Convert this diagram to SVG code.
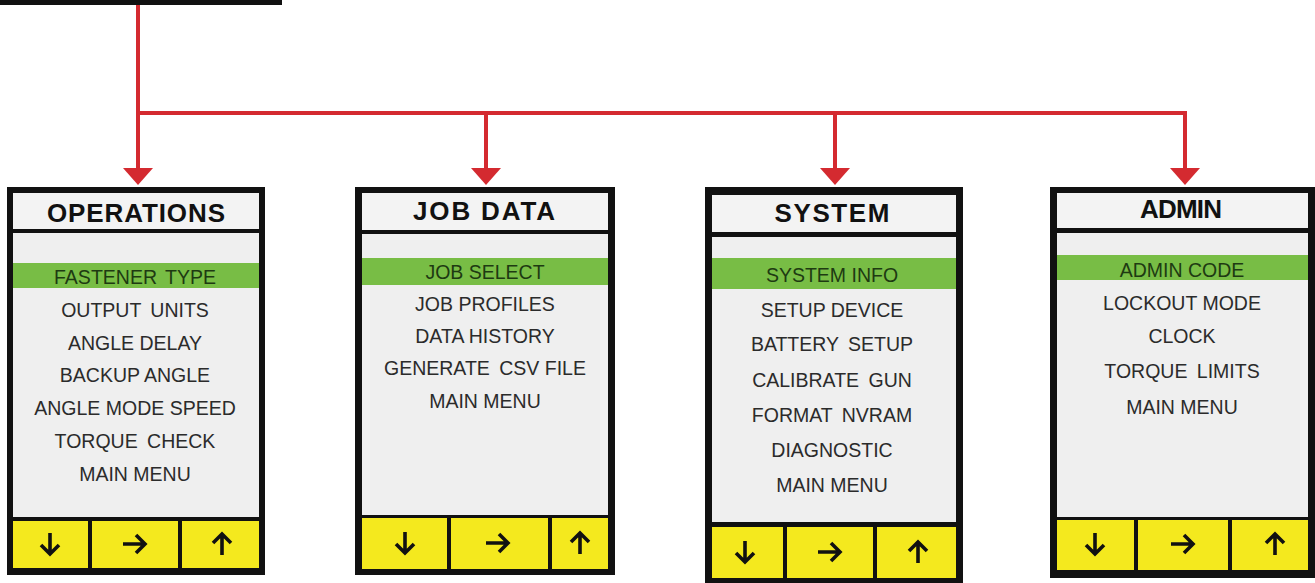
<svg xmlns="http://www.w3.org/2000/svg" xmlns:xlink="http://www.w3.org/1999/xlink" width="1315" height="583" viewBox="0 0 1315 583">
  <style>
    .frame { fill: #111111; }
    .title-bg { fill: #f3f3f3; }
    .body-bg { fill: #efefef; }
    .sel { fill: #78bd45; }
    .btn { fill: #f4e91e; }
    .title { font-family: "Liberation Sans", Arial, sans-serif; font-weight: bold; font-size: 26px; fill: #111111; text-anchor: middle; }
    .item { font-family: "Liberation Sans", Arial, sans-serif; font-size: 19.5px; fill: #2b2b2b; text-anchor: middle; }
    .item.on { fill: #1e3a12; }
    .wire { fill: none; stroke: #d42a30; stroke-width: 4; }
    .glyph { fill: none; stroke: #111111; stroke-width: 3.6; stroke-linejoin: miter; }
  </style>
  <defs>
    <!-- triangular red head, tip 15px beyond the end of the line -->
    <marker id="head" markerUnits="userSpaceOnUse" markerWidth="17" markerHeight="30" refX="2" refY="15" orient="auto" viewBox="0 0 17 30">
      <path d="M0,0 L17,15 L0,30 Z" fill="#d42a30"/>
    </marker>
    <g id="down"><path class="glyph" d="M0,-11 V10 M-9,1 L0,10 L9,1"/></g>
    <g id="right"><path class="glyph" d="M-12,0 H10 M1,-9 L10,0 L1,9"/></g>
    <g id="up"><path class="glyph" d="M0,11 V-10 M-9,-1 L0,-10 L9,-1"/></g>
  </defs>

  <rect width="1315" height="583" fill="#ffffff"/>

  <!-- top menu bar edge -->
  <rect id="root" x="0" y="0" width="282" height="5" class="frame"/>

  <!-- connectors -->
  <g id="connectors">
    <path class="wire" d="M138,5 V113 H1185"/>
    <path class="wire" d="M138,113 V170" marker-end="url(#head)"/>
    <path class="wire" d="M486,113 V170" marker-end="url(#head)"/>
    <path class="wire" d="M835,113 V170" marker-end="url(#head)"/>
    <path class="wire" d="M1185,111 V170" marker-end="url(#head)"/>
  </g>

  <!-- OPERATIONS -->
  <g id="operations">
    <rect class="frame" x="7" y="187" width="258" height="388"/>
    <rect class="title-bg" x="13" y="193" width="246" height="36"/>
    <rect class="body-bg" x="13" y="233" width="246" height="284"/>
    <rect class="sel" x="13" y="263" width="246" height="25"/>
    <rect class="btn" x="13" y="521" width="75" height="47"/>
    <rect class="btn" x="92" y="521" width="86" height="47"/>
    <rect class="btn" x="182" y="521" width="77" height="47"/>
    <text class="title" x="136" y="222" textLength="178" lengthAdjust="spacing">OPERATIONS</text>
    <text class="item on" x="135" y="284">FASTENER<tspan dx="3"> TYPE</tspan></text>
    <text class="item" x="135" y="317">OUTPUT<tspan dx="4"> UNITS</tspan></text>
    <text class="item" x="135" y="350">ANGLE DELAY</text>
    <text class="item" x="135" y="382">BACKUP ANGLE</text>
    <text class="item" x="135" y="415">ANGLE MODE SPEED</text>
    <text class="item" x="135" y="448">TORQUE<tspan dx="4"> CHECK</tspan></text>
    <text class="item" x="135" y="481">MAIN MENU</text>
    <use xlink:href="#down" x="50" y="544"/>
    <use xlink:href="#right" x="135" y="544"/>
    <use xlink:href="#up" x="222" y="544"/>
  </g>

  <!-- JOB DATA -->
  <g id="job-data">
    <rect class="frame" x="355" y="187" width="260" height="388"/>
    <rect class="title-bg" x="362" y="193" width="246" height="37"/>
    <rect class="body-bg" x="362" y="234" width="246" height="281"/>
    <rect class="sel" x="362" y="258" width="246" height="27"/>
    <rect class="btn" x="362" y="518" width="85" height="51"/>
    <rect class="btn" x="451" y="518" width="97" height="51"/>
    <rect class="btn" x="552" y="518" width="56" height="51"/>
    <text class="title" x="484" y="220" textLength="142" lengthAdjust="spacing">JOB DATA</text>
    <text class="item on" x="485" y="279">JOB SELECT</text>
    <text class="item" x="485" y="311">JOB PROFILES</text>
    <text class="item" x="485" y="343">DATA HISTORY</text>
    <text class="item" x="485" y="375">GENERATE<tspan dx="4"> CSV FILE</tspan></text>
    <text class="item" x="485" y="408">MAIN MENU</text>
    <use xlink:href="#down" x="405" y="543"/>
    <use xlink:href="#right" x="498" y="543"/>
    <use xlink:href="#up" x="580" y="543"/>
  </g>

  <!-- SYSTEM -->
  <g id="system">
    <rect class="frame" x="705" y="187" width="258" height="400"/>
    <rect class="title-bg" x="712" y="195" width="244" height="37"/>
    <rect class="body-bg" x="712" y="237" width="244" height="285"/>
    <rect class="sel" x="712" y="258" width="244" height="31"/>
    <rect class="btn" x="712" y="527" width="71" height="51"/>
    <rect class="btn" x="787" y="527" width="86" height="51"/>
    <rect class="btn" x="877" y="527" width="79" height="51"/>
    <text class="title" x="832" y="222" textLength="115" lengthAdjust="spacing">SYSTEM</text>
    <text class="item on" x="832" y="282">SYSTEM INFO</text>
    <text class="item" x="832" y="317">SETUP DEVICE</text>
    <text class="item" x="832" y="351">BATTERY<tspan dx="4"> SETUP</tspan></text>
    <text class="item" x="832" y="387">CALIBRATE<tspan dx="4"> GUN</tspan></text>
    <text class="item" x="832" y="422">FORMAT<tspan dx="4"> NVRAM</tspan></text>
    <text class="item" x="832" y="457">DIAGNOSTIC</text>
    <text class="item" x="832" y="492">MAIN MENU</text>
    <use xlink:href="#down" x="745" y="552"/>
    <use xlink:href="#right" x="830" y="552"/>
    <use xlink:href="#up" x="918" y="552"/>
  </g>

  <!-- ADMIN -->
  <g id="admin">
    <rect class="frame" x="1050" y="187" width="265" height="391"/>
    <rect class="title-bg" x="1057" y="193" width="251" height="35"/>
    <rect class="body-bg" x="1057" y="233" width="251" height="284"/>
    <rect class="sel" x="1057" y="255" width="251" height="25"/>
    <rect class="btn" x="1057" y="520" width="77" height="50"/>
    <rect class="btn" x="1138" y="520" width="90" height="50"/>
    <rect class="btn" x="1232" y="520" width="76" height="50"/>
    <text class="title" x="1181" y="218" textLength="82" lengthAdjust="spacing">ADMIN</text>
    <text class="item on" x="1182" y="277">ADMIN CODE</text>
    <text class="item" x="1182" y="310">LOCKOUT MODE</text>
    <text class="item" x="1182" y="343">CLOCK</text>
    <text class="item" x="1182" y="378">TORQUE<tspan dx="4"> LIMITS</tspan></text>
    <text class="item" x="1182" y="414">MAIN MENU</text>
    <use xlink:href="#down" x="1095" y="544"/>
    <use xlink:href="#right" x="1183" y="544"/>
    <use xlink:href="#up" x="1275" y="544"/>
  </g>
</svg>
